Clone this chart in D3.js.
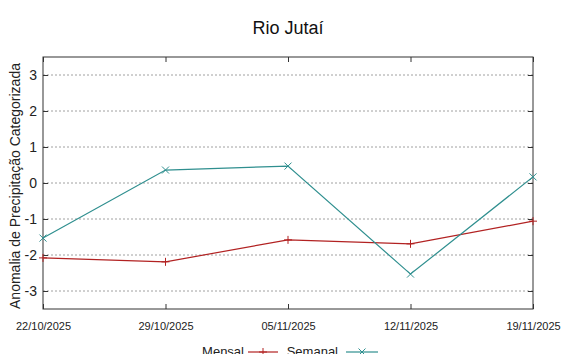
<!DOCTYPE html>
<html><head><meta charset="utf-8">
<script src="https://cdn.jsdelivr.net/npm/d3@7/dist/d3.min.js"></script>
<style>body{margin:0;background:#fff}svg{display:block}</style>
</head><body>
<script>
const dates = ["22/10/2025","29/10/2025","05/11/2025","12/11/2025","19/11/2025"];
const mensal = [-2.08, -2.19, -1.58, -1.69, -1.06];
const semanal = [-1.53, 0.36, 0.47, -2.53, 0.17];
const yTicks = [-3,-2,-1,0,1,2,3];

const W=566,H=354, L=43,R=533,T=57,B=309;
const svg=d3.select("body").append("svg").attr("width",W).attr("height",H);
const x=d3.scalePoint().domain(dates).range([L,R]);
const y=d3.scaleLinear().domain([-3.5,3.5]).range([B,T]);
const red="#b22222", teal="#2f8f8f";

// grid
svg.append("g").selectAll("line").data(yTicks).join("line")
  .attr("x1",L).attr("x2",R).attr("y1",d=>y(d)).attr("y2",d=>y(d))
  .attr("stroke","#a0a0a0").attr("stroke-width",1).attr("stroke-dasharray","2,2");

// border
svg.append("rect").attr("x",L).attr("y",T).attr("width",R-L).attr("height",B-T)
  .attr("fill","none").attr("stroke","#333").attr("stroke-width",1);

// y axis
const ya=svg.append("g").attr("transform",`translate(${L},0)`)
  .call(d3.axisLeft(y).tickValues(yTicks).tickSize(-5).tickPadding(6).tickFormat(d=>String(d)));
ya.select(".domain").remove();
ya.selectAll("text").attr("font-family","Liberation Sans Narrow, Liberation Sans, Arial").attr("font-size",14).attr("fill","#222");
ya.selectAll("line").attr("stroke","#333");
const yr=svg.append("g").attr("transform",`translate(${R},0)`)
  .call(d3.axisRight(y).tickValues(yTicks).tickSize(-5).tickFormat(""));
yr.select(".domain").remove(); yr.selectAll("line").attr("stroke","#333");

// x axis
const xa=svg.append("g").attr("transform",`translate(0,${B})`)
  .call(d3.axisBottom(x).tickSize(-5).tickPadding(13));
xa.select(".domain").remove();
xa.selectAll("text").attr("font-family","Liberation Sans Narrow, Liberation Sans, Arial").attr("font-size",11).attr("fill","#222");
xa.selectAll("line").attr("stroke","#333");
const xt=svg.append("g").attr("transform",`translate(0,${T})`)
  .call(d3.axisTop(x).tickSize(-5).tickFormat(""));
xt.select(".domain").remove(); xt.selectAll("line").attr("stroke","#333");

// lines
const line=d3.line().x((d,i)=>x(dates[i])).y(d=>y(d));
function plus(g,cx,cy,c,s=4){g.append("path").attr("d",`M${cx-s},${cy}H${cx+s}M${cx},${cy-s}V${cy+s}`).attr("stroke",c).attr("stroke-width",1);}
function cross(g,cx,cy,c,s=3.5){g.append("path").attr("d",`M${cx-s},${cy-s}L${cx+s},${cy+s}M${cx-s},${cy+s}L${cx+s},${cy-s}`).attr("stroke",c).attr("stroke-width",1);}
const gm=svg.append("g");
gm.append("path").datum(mensal).attr("d",line).attr("fill","none").attr("stroke",red).attr("stroke-width",1.2);
mensal.forEach((v,i)=>plus(gm,x(dates[i]),y(v),red));
const gs=svg.append("g");
gs.append("path").datum(semanal).attr("d",line).attr("fill","none").attr("stroke",teal).attr("stroke-width",1.2);
semanal.forEach((v,i)=>cross(gs,x(dates[i]),y(v),teal));

// title
svg.append("text").attr("x",288).attr("y",34).attr("text-anchor","middle")
  .attr("font-family","Liberation Sans, Arial").attr("font-size",18).attr("fill","#111").text("Rio Jutaí");
// y label
svg.append("text").attr("transform",`translate(20,186) rotate(-90)`).attr("text-anchor","middle")
  .attr("font-family","Liberation Sans, Arial").attr("font-size",14).attr("fill","#222")
  .text("Anomalia de Precipitação Categorizada");
// legend
const lg=svg.append("g").attr("font-family","Liberation Sans, Arial").attr("font-size",13).attr("fill","#222");
lg.append("text").attr("x",244).attr("y",356).attr("text-anchor","end").text("Mensal");
lg.append("line").attr("x1",248).attr("x2",278).attr("y1",352).attr("y2",352).attr("stroke",red).attr("stroke-width",1.2);
plus(lg,263,352,red);
lg.append("text").attr("x",338).attr("y",356).attr("text-anchor","end").text("Semanal");
lg.append("line").attr("x1",346).attr("x2",378).attr("y1",352).attr("y2",352).attr("stroke",teal).attr("stroke-width",1.2);
cross(lg,362,352,teal);
</script>
</body></html>
